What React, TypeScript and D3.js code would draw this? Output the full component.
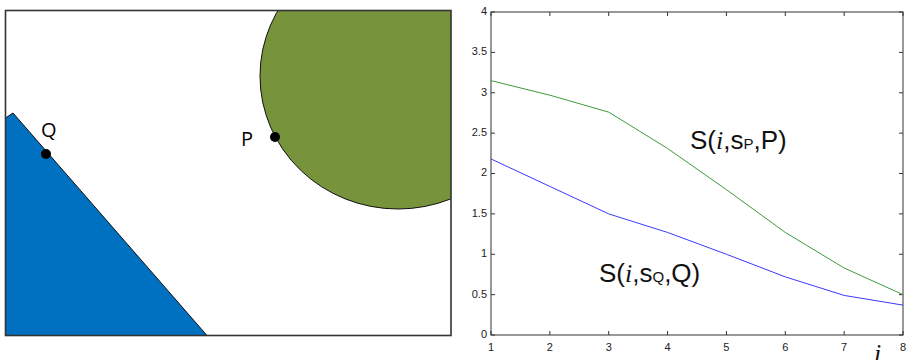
import React from "react";
import * as d3 from "d3";

const steps = [1, 2, 3, 4, 5, 6, 7, 8];
const sP = [3.15, 2.97, 2.76, 2.31, 1.8, 1.27, 0.83, 0.5];
const sQ = [2.18, 1.84, 1.5, 1.27, 1.0, 0.72, 0.49, 0.37];
const yTicks = [0, 0.5, 1, 1.5, 2, 2.5, 3, 3.5, 4];
const yTickLabels = ["0", "0.5", "1", "1.5", "2", "2.5", "3", "3.5", "4"];

const W = 907;
const H = 360;

export default function App() {
  const x = d3.scaleLinear().domain([1, 8]).range([491, 903]);
  const y = d3.scaleLinear().domain([0, 4]).range([335, 12]);
  const line = d3
    .line<number>()
    .x((_, i) => x(steps[i]))
    .y((d) => y(d));

  const box = { x0: 5.5, y0: 10.5, x1: 451, y1: 335.5 };
  const tri = d3.line()([
    [box.x0, 118],
    [13, 113],
    [207, box.y1],
    [box.x0, box.y1],
  ] as [number, number][]);
  const tickLen = 4;
  const font = "'Liberation Sans', Arial, sans-serif";
  const serif = "'Liberation Serif', 'Times New Roman', serif";

  return (
    <svg
      width={W}
      height={H}
      style={{ position: "absolute", left: 0, top: 0, background: "#fff" }}
    >
      <defs>
        <clipPath id="boxclip">
          <rect x={box.x0} y={box.y0} width={box.x1 - box.x0} height={box.y1 - box.y0} />
        </clipPath>
      </defs>
      <g clipPath="url(#boxclip)">
        <path d={tri || ""} fill="#0070C0" stroke="#111" strokeWidth={1} />
        <ellipse cx={398} cy={76} rx={138} ry={133} fill="#77933C" stroke="#111" strokeWidth={1} />
      </g>
      <rect
        x={box.x0}
        y={box.y0}
        width={box.x1 - box.x0}
        height={box.y1 - box.y0}
        fill="none"
        stroke="#333"
        strokeWidth={1.6}
      />
      <circle cx={46} cy={154} r={5} fill="#000" />
      <circle cx={275} cy={137} r={5} fill="#000" />
      <text x={41} y={137} fontFamily="'Open Sans', 'DejaVu Sans', sans-serif" fontSize={20} fill="#000">
        Q
      </text>
      <text x={241} y={146} fontFamily="'Open Sans', 'DejaVu Sans', sans-serif" fontSize={20} fill="#000">
        P
      </text>

      <rect x={491} y={12} width={412} height={323} fill="none" stroke="#333" strokeWidth={1} />
      {yTicks.map((t, i) => (
        <g key={"y" + i}>
          <line x1={491} x2={491 + tickLen} y1={y(t)} y2={y(t)} stroke="#333" />
          <line x1={903} x2={903 - tickLen} y1={y(t)} y2={y(t)} stroke="#333" />
          <text
            x={487}
            y={y(t)}
            textAnchor="end"
            dominantBaseline="middle"
            fontFamily={font}
            fontSize={11}
            fill="#222"
          >
            {yTickLabels[i]}
          </text>
        </g>
      ))}
      {steps.map((s) => (
        <g key={"x" + s}>
          <line x1={x(s)} x2={x(s)} y1={335} y2={335 - tickLen} stroke="#333" />
          <line x1={x(s)} x2={x(s)} y1={12} y2={12 + tickLen} stroke="#333" />
          <text x={x(s)} y={351} textAnchor="middle" fontFamily={font} fontSize={11} fill="#222">
            {s}
          </text>
        </g>
      ))}
      <path d={line(sP) || ""} fill="none" stroke="#3c9c3c" strokeWidth={1} />
      <path d={line(sQ) || ""} fill="none" stroke="#3a3aff" strokeWidth={1} />

      <text x={690} y={149} fontFamily={font} fontSize={26} fill="#111">
        <tspan>S(</tspan>
        <tspan fontFamily={serif} fontStyle="italic">
          i
        </tspan>
        <tspan>,s</tspan>
        <tspan fontSize={15}>P</tspan>
        <tspan>,P)</tspan>
      </text>
      <text x={599} y={282} fontFamily={font} fontSize={26} fill="#111">
        <tspan>S(</tspan>
        <tspan fontFamily={serif} fontStyle="italic">
          i
        </tspan>
        <tspan>,s</tspan>
        <tspan fontSize={15}>Q</tspan>
        <tspan>,Q)</tspan>
      </text>
      <text x={874} y={362} fontFamily={serif} fontStyle="italic" fontSize={26} fill="#111">
        i
      </text>
    </svg>
  );
}
